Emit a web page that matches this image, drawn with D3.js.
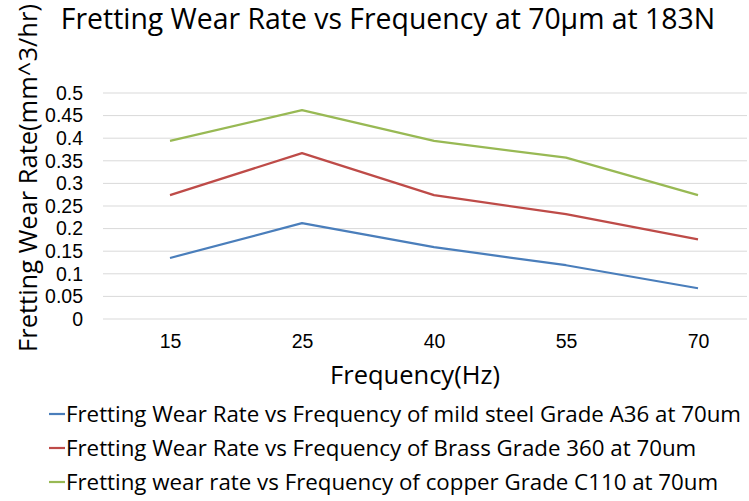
<!DOCTYPE html>
<html><head><meta charset="utf-8">
<script src="https://cdn.jsdelivr.net/npm/d3@7"></script>
<style>body{margin:0;background:#fff}svg{display:block;font-family:"Open Sans","Liberation Sans",sans-serif}</style>
</head><body><svg id="c" width="749" height="501"></svg>
<script>
const categories = ["15","25","40","55","70"];
const steel = [0.135,0.212,0.159,0.119,0.068];
const brass = [0.274,0.367,0.274,0.232,0.176];
const copper = [0.394,0.462,0.394,0.357,0.274];
const yTicks = [0,0.05,0.1,0.15,0.2,0.25,0.3,0.35,0.4,0.45,0.5];
const seriesNames = [
 "Fretting Wear Rate vs Frequency of mild steel Grade A36 at 70um",
 "Fretting Wear Rate vs Frequency of Brass Grade 360 at 70um",
 "Fretting wear rate vs Frequency of copper Grade C110 at 70um"];
const colors = ["#4a7ebb","#be4b48","#98b954"];
const series = [steel,brass,copper];

const svg = d3.select("#c");
const x = d3.scalePoint().domain(categories).range([170,698]);
const y = d3.scaleLinear().domain([0,0.5]).range([319,93]);

svg.append("text").attr("x",388).attr("y",29).attr("text-anchor","middle")
  .attr("font-size",28.4).attr("fill","#000").text("Fretting Wear Rate vs Frequency at 70µm at 183N");

const g = svg.append("g");
g.selectAll("line.grid").data(yTicks).join("line")
  .attr("x1",103).attr("x2",747).attr("y1",d=>y(d)).attr("y2",d=>y(d))
  .attr("stroke","#d9d9d9").attr("stroke-width",1);

const yAxis = d3.axisLeft(y).tickValues(yTicks).tickSize(0).tickPadding(0).tickFormat(d=>String(+d.toFixed(2)));
const ya = svg.append("g").attr("transform","translate(83,0)").call(yAxis);
ya.select(".domain").remove();
ya.selectAll("text").attr("font-size",19.5).attr("fill","#000").attr("font-family","inherit");

const xAxis = d3.axisBottom(x).tickSize(0).tickPadding(0);
const xa = svg.append("g").attr("transform","translate(0,334)").call(xAxis);
xa.select(".domain").remove();
xa.selectAll("text").attr("font-size",19.5).attr("fill","#000").attr("font-family","inherit").attr("dy","0.71em");

svg.append("text").attr("x",415).attr("y",384).attr("text-anchor","middle")
  .attr("font-size",25.5).text("Frequency(Hz)");
svg.append("text").attr("transform","translate(37,178) rotate(-90)").attr("text-anchor","middle")
  .attr("font-size",25.5).text("Fretting Wear Rate(mm^3/hr)");

const line = d3.line().x((d,i)=>x(categories[i])).y(d=>y(d));
series.forEach((s,i)=>{
  svg.append("path").datum(s).attr("d",line).attr("fill","none")
    .attr("stroke",colors[i]).attr("stroke-width",2.2).attr("stroke-linejoin","round");
});

const leg = svg.append("g");
seriesNames.forEach((n,i)=>{
  const yy = 414 + i*34;
  leg.append("line").attr("x1",49).attr("x2",65).attr("y1",yy).attr("y2",yy)
    .attr("stroke",colors[i]).attr("stroke-width",2.2);
  leg.append("text").attr("x",66).attr("y",yy).attr("dy","0.35em")
    .attr("font-size",22.3).text(n);
});
</script></body></html>
